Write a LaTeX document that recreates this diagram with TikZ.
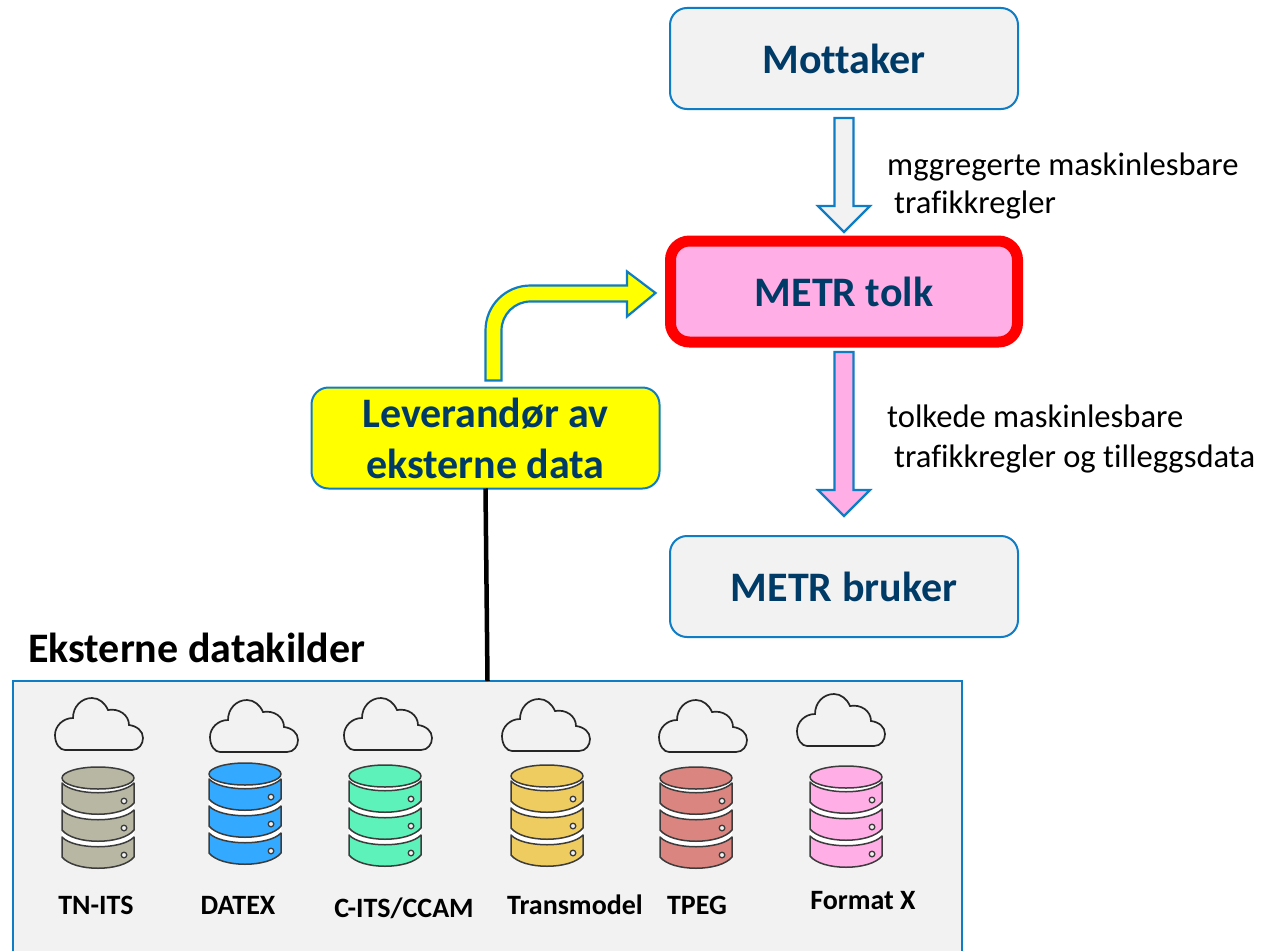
\documentclass[tikz,border=0pt]{standalone}
\usepackage{fontspec}
\setmainfont[Ligatures=NoCommon]{Carlito}
\usetikzlibrary{calc}
\definecolor{edgeblue}{HTML}{0F7CC6}
\definecolor{boxgrey}{HTML}{F2F2F2}
\definecolor{titleblue}{HTML}{003A66}
\definecolor{pinkfill}{HTML}{FFAEE6}
\definecolor{dbline}{HTML}{3C3C3C}
\definecolor{pureyellow}{HTML}{FFFF00}
\definecolor{purered}{HTML}{FF0000}
\tikzset{
  box/.style={draw=edgeblue,line width=2pt,rounded corners=17pt,fill=boxgrey,minimum width=348pt,minimum height=101pt,inner sep=0pt,outer sep=0pt,align=center,text=titleblue,font=\fontsize{42}{51}\selectfont\bfseries},
  blockarrow/.style={draw=edgeblue,line width=2.2pt,miter limit=10},
  lbl/.style={anchor=base west,inner sep=0pt,font=\fontsize{32.6}{38}\selectfont,text=black},
  dblbl/.style={anchor=base,inner sep=0pt,font=\fontsize{28}{32}\selectfont\bfseries,text=black},
  cloudline/.style={draw=black!85,line width=1.7pt,fill=boxgrey},
  dbdisk/.style={draw=dbline,line width=1.5pt,line join=round},
}
\newcommand{\cloudicon}[2]{%
  \begin{scope}[shift={(#1,#2)}]
    \path[cloudline] (10,52) -- (77,52) .. controls (84,52) and (88,46) .. (88,40) .. controls (88,33) and (82,28) .. (74,27) .. controls (74,17) and (64,10) .. (53,12) .. controls (50,5) and (44,0) .. (37,0) .. controls (26,0) and (18,9) .. (18,20) .. controls (8,20) and (0,28) .. (0,37) .. controls (0,46) and (5,52) .. (10,52) -- cycle;
  \end{scope}}
\newcommand{\diskicon}[1]{%
  \path[dbdisk,fill=dbc] (0,16+#1) .. controls (12,29+#1) and (60,29+#1) .. (72,16+#1) -- (72,36+#1) .. controls (60,51+#1) and (12,51+#1) .. (0,36+#1) -- cycle;
  \path[draw=dbline,line width=1.3pt,fill=boxgrey] (62,34+#1) circle[radius=2.8];}
\newcommand{\dbicon}[3]{%
  \definecolor{dbc}{HTML}{#3}%
  \begin{scope}[shift={(#1,#2)}]
    \fill[white] (0,11) -- (72,11) -- (72,92) -- (0,92) -- cycle;
    \diskicon{0}
    \diskicon{27}
    \diskicon{54}
    \path[dbdisk,fill=dbc] (36,11) ellipse[x radius=36,y radius=11];
  \end{scope}}
\begin{document}
\begin{tikzpicture}[x=1pt,y=-1pt]
  \useasboundingbox (0,0) rectangle (1276,950);
  \fill[white] (0,0) rectangle (1276,950);

  \node[draw=edgeblue,line width=2pt,fill=boxgrey,minimum width=949pt,minimum height=300pt,inner sep=0pt,outer sep=0pt] (panel) at (487.5,831) {};
  \node[box] (mot) at (844,58.5) {\raisebox{-1.5pt}{Mottaker}};
  \node[box,draw=purered,line width=11pt,fill=pinkfill,rounded corners=19pt,minimum width=347pt,minimum height=101pt] (tolk) at (844,291.5) {METR tolk};
  \node[box] (bruker) at (844,586.5) {METR bruker};
  \node[box,fill=pureyellow] (lev) at (485.5,438) {Leverandør av\\eksterne data};

  \node[anchor=base west,inner sep=0pt,font=\fontsize{42}{46}\selectfont\bfseries] (title) at (28,662) {Eksterne datakilder};

  \draw[line width=4.5pt,black] (lev.south) -- (panel.north);

  \path[blockarrow,fill=boxgrey] ($(tolk.north)+(-9.5,-123)$) -- ($(tolk.north)+(9.5,-123)$) -- ($(tolk.north)+(9.5,-35)$) -- ($(tolk.north)+(26,-35)$) -- ($(tolk.north)+(0,-9)$) -- ($(tolk.north)+(-26,-35)$) -- ($(tolk.north)+(-9.5,-35)$) -- cycle;
  \path[blockarrow,fill=pinkfill] ($(tolk.south)+(-9.5,10)$) -- ($(tolk.south)+(9.5,10)$) -- ($(tolk.south)+(9.5,148)$) -- ($(tolk.south)+(26,148)$) -- ($(bruker.north)+(0,-20)$) -- ($(tolk.south)+(-26,148)$) -- ($(tolk.south)+(-9.5,148)$) -- cycle;
  \path[blockarrow,fill=pureyellow] ($(lev.north)+(0,-7)$) -- ($(lev.north)+(0,-57)$) .. controls ($(lev.north)+(0,-82)$) and ($(lev.north)+(20,-102)$) .. ($(lev.north)+(45,-102)$) -- ($(lev.north)+(141.5,-102)$) -- ($(lev.north)+(141.5,-116)$) -- ($(tolk.west)+(-15,1.5)$) -- ($(lev.north)+(141.5,-71)$) -- ($(lev.north)+(141.5,-86)$) -- ($(lev.north)+(45,-86)$) .. controls ($(lev.north)+(29,-86)$) and ($(lev.north)+(16,-73)$) .. ($(lev.north)+(16,-57)$) -- ($(lev.north)+(16,-7)$) -- cycle;

  \node[lbl] (l1) at (887,175.5) {mggregerte maskinlesbare};
  \node[lbl] (l2) at (894,213.5) {trafikkregler};
  \node[lbl] (l3) at (887,427.5) {tolkede maskinlesbare};
  \node[lbl] (l4) at (894,467.5) {trafikkregler og tilleggsdata};

  \cloudicon{55}{698}
  \cloudicon{210}{700}
  \cloudicon{344}{698}
  \cloudicon{502}{699}
  \cloudicon{659}{700}
  \cloudicon{797}{694}

  \dbicon{62}{767}{B7B7A4}
  \dbicon{209}{763}{33AAFF}
  \dbicon{349}{765}{5CF2BA}
  \dbicon{511}{765}{EECC60}
  \dbicon{660}{767}{DB8580}
  \dbicon{810}{766}{FFAEE6}

  \node[dblbl] (d1) at (96,914) {TN-ITS};
  \node[dblbl] (d2) at (238,914) {DATEX};
  \node[dblbl] (d3) at (404,917) {C-ITS/CCAM};
  \node[dblbl] (d4) at (575,914) {Transmodel};
  \node[dblbl] (d5) at (697,914) {TPEG};
  \node[dblbl] (d6) at (863,909) {Format X};
\end{tikzpicture}
\end{document}
